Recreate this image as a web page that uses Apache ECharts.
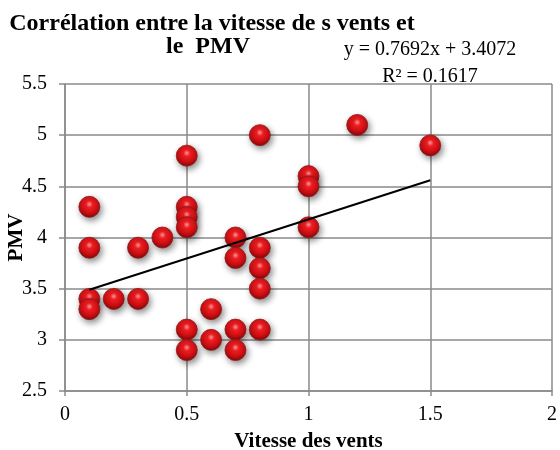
<!DOCTYPE html>
<html>
<head>
<meta charset="utf-8">
<script src="https://cdn.jsdelivr.net/npm/echarts@6/dist/echarts.min.js"></script>
<style>html,body{margin:0;padding:0;background:#fff}#c{width:560px;height:450px}</style>
</head>
<body>
<div id="c"></div>
<script>
// Data
const windSpeed = [0.1, 0.1, 0.1, 0.1, 0.2, 0.3, 0.3, 0.4, 0.5, 0.5, 0.5, 0.5, 0.5, 0.5, 0.6, 0.6, 0.7, 0.7, 0.7, 0.7, 0.8, 0.8, 0.8, 0.8, 0.8, 1.0, 1.0, 1.0, 1.2, 1.5];
const pmv       = [4.3, 3.9, 3.4, 3.3, 3.4, 3.9, 3.4, 4.0, 4.8, 4.3, 4.2, 4.1, 3.1, 2.9, 3.3, 3.0, 4.0, 3.8, 3.1, 2.9, 5.0, 3.9, 3.7, 3.5, 3.1, 4.6, 4.5, 4.1, 5.1, 4.9];
const trendX = [0.1, 1.5];
const trendY = [3.49, 4.56];
const titleLines = ['Corrélation entre la vitesse de s vents et', 'le  PMV'];
const equationLines = ['y = 0.7692x + 3.4072', 'R² = 0.1617'];
const xAxisName = 'Vitesse des vents';
const yAxisName = 'PMV';

const points = windSpeed.map((x, i) => [x, pmv[i]]);
const trend = trendX.map((x, i) => [x, trendY[i]]);

const serif = '"Liberation Serif", "Times New Roman", serif';
const grey = '#8a8a8a';

const chart = echarts.init(document.getElementById('c'), null, {renderer: 'canvas'});
chart.setOption({
  animation: false,
  backgroundColor: '#fff',
  grid: {left: 65, right: 8, top: 84, bottom: 59, containLabel: false, outerBoundsMode: 'none'},
  xAxis: {
    type: 'value', min: 0, max: 2, interval: 0.5,
    name: xAxisName, nameLocation: 'middle', nameGap: 40, nameMoveOverlap: false,
    nameTextStyle: {fontFamily: serif, fontWeight: 'bold', fontSize: 21, color: '#000'},
    axisLine: {show: true, lineStyle: {color: grey, width: 1.5}},
    axisTick: {show: true, inside: false, length: 5, lineStyle: {color: grey, width: 1.5}},
    axisLabel: {fontFamily: serif, fontSize: 20, color: '#000', margin: 14},
    splitLine: {show: true, lineStyle: {color: grey, width: 1.5}}
  },
  yAxis: {
    type: 'value', min: 2.5, max: 5.5, interval: 0.5,
    name: yAxisName, nameLocation: 'middle', nameGap: 38, nameRotate: 90, nameMoveOverlap: false,
    nameTextStyle: {fontFamily: serif, fontWeight: 'bold', fontSize: 21, color: '#000'},
    axisLine: {show: true, lineStyle: {color: grey, width: 1.5}},
    axisTick: {show: true, inside: false, length: 6, lineStyle: {color: grey, width: 1.5}},
    axisLabel: {fontFamily: serif, fontSize: 20, color: '#000', margin: 18},
    splitLine: {show: true, lineStyle: {color: grey, width: 1.5}}
  },
  series: [
    {
      type: 'scatter',
      data: points,
      symbol: 'circle',
      symbolSize: 21,
      z: 3,
      itemStyle: {
        color: {
          type: 'radial', x: 0.5, y: 0.38, r: 0.62,
          colorStops: [
            {offset: 0, color: '#ff9a9a'},
            {offset: 0.25, color: '#f01e22'},
            {offset: 0.7, color: '#c90d12'},
            {offset: 1, color: '#7a0a0a'}
          ]
        },
        borderColor: '#8c1a1a', borderWidth: 0.8,
        shadowBlur: 6, shadowColor: 'rgba(0,0,0,0.45)', shadowOffsetX: 2, shadowOffsetY: 3,
        opacity: 1
      }
    },
    {
      type: 'line',
      data: trend,
      symbol: 'none',
      z: 4,
      lineStyle: {color: '#000', width: 2},
      silent: true
    }
  ],
  graphic: [
    {type: 'text', x: 212, y: 24, z: 10, style: {text: titleLines[0], fill: '#000', font: 'bold 24px ' + serif, textAlign: 'center', textVerticalAlign: 'middle'}},
    {type: 'text', x: 208, y: 47, z: 10, style: {text: titleLines[1], fill: '#000', font: 'bold 24px ' + serif, textAlign: 'center', textVerticalAlign: 'middle'}},
    {type: 'text', x: 430, y: 50, z: 10, style: {text: equationLines[0], fill: '#000', font: '20px ' + serif, textAlign: 'center', textVerticalAlign: 'middle'}},
    {type: 'text', x: 430, y: 77, z: 10, style: {text: equationLines[1], fill: '#000', font: '20px ' + serif, textAlign: 'center', textVerticalAlign: 'middle'}}
  ]
});
</script>
</body>
</html>
